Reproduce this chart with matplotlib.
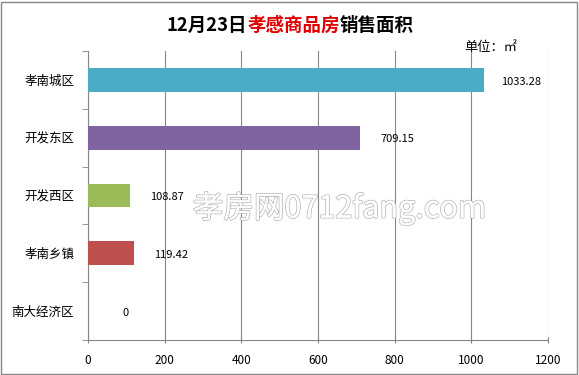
import matplotlib
matplotlib.use("Agg")

import matplotlib.pyplot as plt
import matplotlib.patheffects as pe
from matplotlib.patches import Rectangle
import numpy as np

plt.rcParams['font.family'] = ['Noto Sans CJK SC', 'DejaVu Sans']

# data (top to bottom)
categories = ["孝南城区", "开发东区", "开发西区", "孝南乡镇", "南大经济区"]
areas = [1033.28, 709.15, 108.87, 119.42, 0]
bar_colors = ["#4BACC6", "#8064A2", "#9BBB59", "#C0504D", "#F79646"]
xticks = [0, 200, 400, 600, 800, 1000, 1200]

fig = plt.figure(figsize=(5.79, 3.75), dpi=100)
ax = fig.add_axes([0.152, 0.0933, 0.7945, 0.7707])

y = np.arange(len(categories))
ax.barh(y, areas, height=0.41, color=bar_colors, zorder=3)
ax.set_ylim(len(categories) - 0.5, -0.5)
ax.set_xlim(0, 1200)

# value labels, placed about 37px past the bar end like Excel does
for yi, v in zip(y, areas):
    txt = "0" if v == 0 else f"{v:.2f}"
    ax.text(v + 97, yi + 0.03, txt, va="center", ha="center", fontsize=8,
            color="black", zorder=5)

ax.set_xticks(xticks)
ax.set_xticklabels([str(t) for t in xticks], fontsize=8.5)
ax.set_yticks(y)
ax.set_yticklabels(categories, fontsize=9)
ax.set_yticks(np.arange(len(categories) + 1) - 0.5, minor=True)
ax.tick_params(axis="y", which="major", length=0, pad=10)
ax.tick_params(axis="y", which="minor", length=4, color="#868686", direction="out")
ax.tick_params(axis="x", length=4, color="#868686", direction="inout", pad=8)

ax.grid(axis="x", color="#868686", linewidth=0.8, zorder=0)
for s in ["top", "right"]:
    ax.spines[s].set_visible(False)
for s in ["left", "bottom"]:
    ax.spines[s].set_color("#868686")

# title, multi colour
parts = [("12月23日", "black"), ("孝感商品房", "#E00000"), ("销售面积", "black")]
renderer = fig.canvas.get_renderer()
x0 = 0.288
for s, c in parts:
    t = fig.text(x0, 0.933, s, color=c, fontsize=13.3, fontweight="bold", va="center", ha="left")
    bb = t.get_window_extent(renderer=renderer)
    x0 += bb.width / fig.bbox.width

fig.text(0.802, 0.873, "单位：㎡", fontsize=9.5, va="center", ha="left")

# watermark
wm = fig.text(0.333, 0.445, "孝房网0712fang.com", fontsize=22, color="white", va="center",
              ha="left", alpha=0.9, zorder=4)
wm.set_path_effects([pe.withStroke(linewidth=1.2, foreground="#B0B0B0"), pe.Normal()])

# outer border
fig.patches.append(Rectangle((0.002, 0.003), 0.995, 0.993, transform=fig.transFigure,
                             fill=False, edgecolor="#868686", linewidth=1))

fig.savefig("out.png", dpi=100)
